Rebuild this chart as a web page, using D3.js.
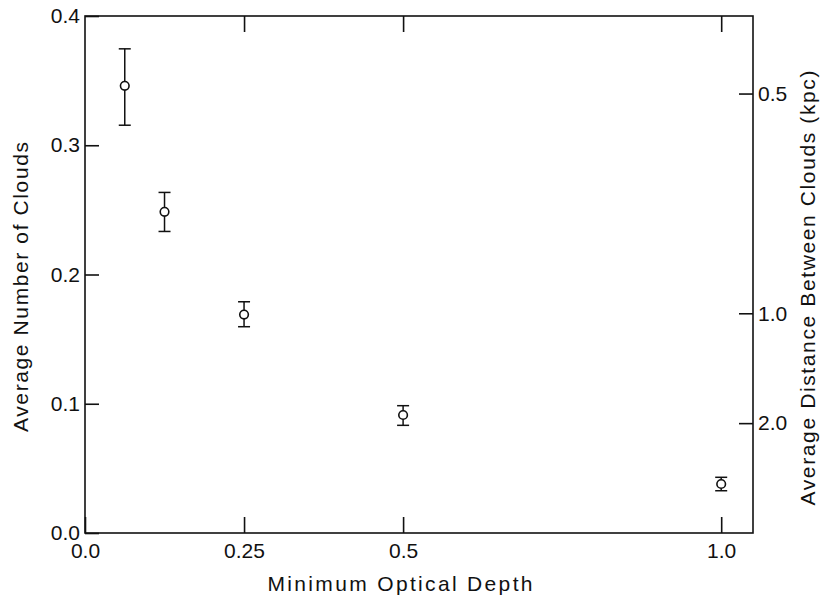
<!DOCTYPE html>
<html>
<head>
<meta charset="utf-8">
<script src="https://cdn.jsdelivr.net/npm/d3@7"></script>
<style>
  html, body { margin: 0; padding: 0; background: #fff; }
  svg text { font-family: "Liberation Sans", Arial, sans-serif; fill: #111; }
</style>
</head>
<body>
<svg id="chart" width="825" height="597"></svg>
<script>
// ---- data ----
const depth = [0.0625, 0.125, 0.25, 0.5, 1.0];
const clouds = [0.346, 0.2485, 0.169, 0.0913, 0.0379];
const errLow = [0.3155, 0.2333, 0.1596, 0.0833, 0.0327];
const errHigh = [0.3746, 0.2635, 0.1789, 0.0985, 0.0431];

const xTicks = [0, 0.25, 0.5, 1.0];
const xTickLabels = ["0.0", "0.25", "0.5", "1.0"];
const xTopTicks = [0.25, 0.5, 1.0];
const yTicks = [0, 0.1, 0.2, 0.3, 0.4];
const yTickLabels = ["0.0", "0.1", "0.2", "0.3", "0.4"];
const distTicks = [0.5, 1.0, 2.0];
const distTickLabels = ["0.5", "1.0", "2.0"];
const distConst = 0.17; // clouds = distConst / distance

const xTitle = "Minimum Optical Depth";
const yTitle = "Average Number of Clouds";
const y2Title = "Average Distance Between Clouds (kpc)";

// ---- layout ----
const svg = d3.select("#chart");
const L = 85, R = 753, T = 16, B = 533;
const x = d3.scaleLinear().domain([0, 1.05]).range([L, R]);
const y = d3.scaleLinear().domain([0, 0.4]).range([B, T]);
const fs = 21;
const ink = "#111";

// frame
svg.append("rect").attr("x", L).attr("y", T).attr("width", R - L).attr("height", B - T)
  .attr("fill", "none").attr("stroke", ink).attr("stroke-width", 1.6);

function styleAxis(g) {
  g.select(".domain").remove();
  g.selectAll(".tick line").attr("stroke", ink).attr("stroke-width", 1.6);
  g.selectAll(".tick text").attr("font-size", fs).attr("fill", ink)
    .attr("font-family", "Liberation Sans, Arial, sans-serif");
}

// bottom axis
svg.append("g").attr("transform", `translate(0,${B})`)
  .call(d3.axisBottom(x).tickValues(xTicks).tickSize(-16).tickPadding(10)
    .tickFormat((d, i) => xTickLabels[i]))
  .call(styleAxis);

// top axis (ticks only)
svg.append("g").attr("transform", `translate(0,${T})`)
  .call(d3.axisTop(x).tickValues(xTopTicks).tickSize(-16).tickFormat(""))
  .call(styleAxis);

// left axis
svg.append("g").attr("transform", `translate(${L},0)`)
  .call(d3.axisLeft(y).tickValues(yTicks).tickSize(-14).tickPadding(5)
    .tickFormat((d, i) => yTickLabels[i]))
  .call(styleAxis);

// right axis (distance)
svg.append("g").attr("transform", `translate(${R},0)`)
  .call(d3.axisRight(y).tickValues(distTicks.map(d => distConst / d)).tickSize(-14).tickPadding(5)
    .tickFormat((d, i) => distTickLabels[i]))
  .call(styleAxis);

// titles
svg.append("text").attr("x", 400).attr("y", 591).attr("text-anchor", "middle")
  .attr("font-size", fs).attr("textLength", 265).attr("lengthAdjust", "spacing").text(xTitle);
svg.append("text").attr("transform", "translate(28,287) rotate(-90)").attr("text-anchor", "middle")
  .attr("font-size", fs).attr("textLength", 290).attr("lengthAdjust", "spacing").text(yTitle);
svg.append("text").attr("transform", "translate(815,288) rotate(-90)").attr("text-anchor", "middle")
  .attr("font-size", fs).attr("textLength", 435).attr("lengthAdjust", "spacing").text(y2Title);

// error bars + points
const pts = depth.map((d, i) => ({ x: d, y: clouds[i], lo: errLow[i], hi: errHigh[i] }));
const g = svg.append("g");
const cap = 6;
g.selectAll("line.eb").data(pts).enter().append("line").attr("class", "eb")
  .attr("x1", d => x(d.x)).attr("x2", d => x(d.x))
  .attr("y1", d => y(d.lo)).attr("y2", d => y(d.hi))
  .attr("stroke", ink).attr("stroke-width", 1.5);
g.selectAll("line.capHi").data(pts).enter().append("line").attr("class", "capHi")
  .attr("x1", d => x(d.x) - cap).attr("x2", d => x(d.x) + cap)
  .attr("y1", d => y(d.hi)).attr("y2", d => y(d.hi))
  .attr("stroke", ink).attr("stroke-width", 1.5);
g.selectAll("line.capLo").data(pts).enter().append("line").attr("class", "capLo")
  .attr("x1", d => x(d.x) - cap).attr("x2", d => x(d.x) + cap)
  .attr("y1", d => y(d.lo)).attr("y2", d => y(d.lo))
  .attr("stroke", ink).attr("stroke-width", 1.5);
g.selectAll("circle").data(pts).enter().append("circle")
  .attr("cx", d => x(d.x)).attr("cy", d => y(d.y)).attr("r", 4.3)
  .attr("fill", "#fff").attr("stroke", ink).attr("stroke-width", 1.6);
</script>
</body>
</html>
